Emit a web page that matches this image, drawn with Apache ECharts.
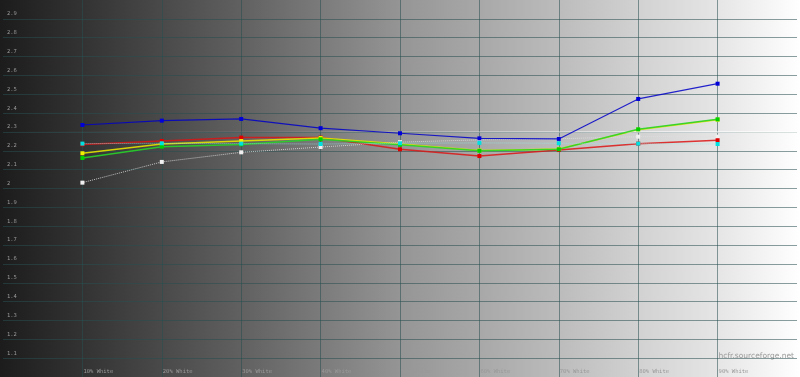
<!DOCTYPE html>
<html>
<head>
<meta charset="utf-8">
<script src="https://cdn.jsdelivr.net/npm/echarts@6/dist/echarts.min.js"></script>
<style>
html,body{margin:0;padding:0;background:#fff;}
#chart{width:800px;height:377px;}
</style>
</head>
<body>
<div id="chart"></div>
<script>
const categories = ['10% White','20% White','30% White','40% White','50% White','60% White','70% White','80% White','90% White'];
const blueValues   = [2.337, 2.36, 2.369, 2.32, 2.293, 2.266, 2.263, 2.475, 2.556];
const redValues    = [2.234, 2.252, 2.27, 2.27, 2.208, 2.172, 2.204, 2.238, 2.256];
const yellowValues = [2.187, 2.236, 2.252, 2.268, 2.236, 2.202, 2.21, 2.312, 2.365];
const greenValues  = [2.162, 2.222, 2.234, 2.261, 2.232, 2.2, 2.208, 2.314, 2.367];
const cyanValues   = [2.238, 2.24, 2.238, 2.236, 2.24, 2.242, 2.24, 2.238, 2.236];
const whiteValues  = [2.031, 2.141, 2.192, 2.22, 2.246, 2.258, 2.264, 2.275, 2.275];
const yTickLabels  = ['1.1','1.2','1.3','1.4','1.5','1.6','1.7','1.8','1.9','2','2.1','2.2','2.3','2.4','2.5','2.6','2.7','2.8','2.9'];

const xPos = i => (i + 1) * 10;
const pts = arr => arr.map((v, i) => [xPos(i), v]);

function lineSeries(name, arr, color, lineColor, type, width, z) {
  return {
    name, type: 'line', data: pts(arr), z: z,
    symbol: 'rect', symbolSize: 4,
    itemStyle: { color: color },
    lineStyle: { color: lineColor, width: width, type: type },
    animation: false
  };
}

const chart = echarts.init(document.getElementById('chart'), null, { renderer: 'canvas' });
chart.setOption({
  backgroundColor: {
    type: 'linear', x: 0, y: 0, x2: 1, y2: 0,
    colorStops: [
      { offset: 0, color: '#1c1c1c' },
      { offset: 0.1, color: '#323232' },
      { offset: 0.3, color: '#606060' },
      { offset: 0.5, color: '#959595' },
      { offset: 0.6, color: '#a8a8a8' },
      { offset: 0.7, color: '#bcbcbc' },
      { offset: 0.8, color: '#d2d2d2' },
      { offset: 0.9, color: '#e6e6e6' },
      { offset: 1, color: '#ffffff' }
    ]
  },
  animation: false,
  grid: { left: 0, right: 0, top: 0, bottom: 0, containLabel: false },
  xAxis: {
    type: 'value', min: 0, max: 100, interval: 10,
    axisLine: { show: false }, axisTick: { show: false },
    splitLine: { show: true, showMinLine: false, showMaxLine: false, lineStyle: { color: 'rgba(40,80,80,0.55)', width: 1 } },
    axisLabel: {
      inside: true, align: 'left', verticalAlign: 'bottom', margin: 2,
      color: '#999', fontFamily: 'DejaVu Sans Mono', fontSize: 5.5,
      padding: [0, 0, 0, 1],
      formatter: v => (v >= 10 && v <= 90) ? categories[Math.round(v / 10) - 1] : ''
    }
  },
  yAxis: {
    type: 'value', min: 1, max: 3, interval: 0.1,
    axisLine: { show: false }, axisTick: { show: false },
    splitLine: { show: true, showMinLine: false, showMaxLine: false, lineStyle: { color: 'rgba(40,80,80,0.55)', width: 1 } },
    axisLabel: {
      inside: true, align: 'left', verticalAlign: 'bottom', margin: 4,
      color: '#999', fontFamily: 'DejaVu Sans Mono', fontSize: 5.5,
      padding: [0, 0, 2, 0],
      formatter: v => {
        const idx = Math.round(v * 10) - 11;
        return (idx >= 0 && idx < yTickLabels.length) ? yTickLabels[idx] : '';
      }
    }
  },
  graphic: [{
    type: 'text', right: 6, top: 352,
    style: { text: 'hcfr.sourceforge.net', fill: '#9a9a9a', font: '7.5px "DejaVu Sans"' }
  }],
  series: [
    Object.assign(lineSeries('white', whiteValues, '#f0f0f0', 'rgba(225,225,225,0.8)', 'dotted', 1, 2), {
      markLine: {
        silent: true, symbol: 'none', label: { show: false },
        lineStyle: {
          color: {
            type: 'linear', x: 0, y: 0, x2: 1, y2: 0,
            colorStops: [
              { offset: 0, color: 'rgba(255,255,255,0)' },
              { offset: 0.4, color: 'rgba(255,255,255,0.08)' },
              { offset: 0.75, color: 'rgba(255,255,255,0.45)' },
              { offset: 1, color: 'rgba(255,255,255,0.7)' }
            ]
          },
          width: 2, type: 'solid'
        },
        data: [{ yAxis: 2.3 }]
      }
    }),
    lineSeries('red', redValues, '#e00000', 'rgba(220,20,20,0.85)', 'solid', 1.5, 3),
    lineSeries('yellow', yellowValues, '#f0f000', 'rgba(230,230,0,0.9)', 'solid', 1.5, 4),
    lineSeries('green', greenValues, '#00d000', 'rgba(40,210,40,0.9)', 'solid', 1.5, 5),
    lineSeries('blue', blueValues, '#0000d8', 'rgba(0,0,200,0.85)', 'solid', 1.2, 6),
    lineSeries('cyan', cyanValues, '#00e0e0', 'rgba(150,235,235,0.7)', 'dotted', 1, 7)
  ]
});
</script>
</body>
</html>
